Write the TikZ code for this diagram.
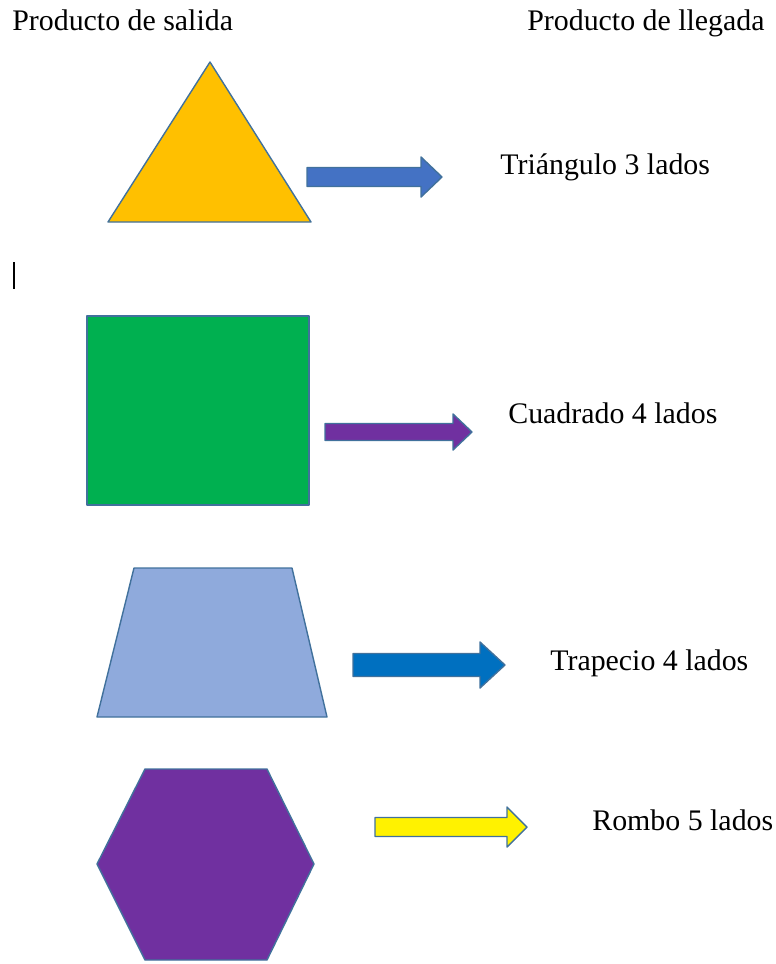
\documentclass[tikz,border=0pt]{standalone}
\usepackage{fontspec}
\setmainfont{Liberation Serif}
\usepackage{xcolor}

\definecolor{amarillo}{HTML}{FFC000}
\definecolor{verde}{HTML}{00B050}
\definecolor{celeste}{HTML}{8FAADC}
\definecolor{morado}{HTML}{7030A0}
\definecolor{azul}{HTML}{4472C4}
\definecolor{azulfuerte}{HTML}{0070C0}
\definecolor{borde}{HTML}{41719C}

\tikzset{
  figura/.style={draw=borde, line width=0.8pt, line join=round},
  texto/.style={anchor=base west, inner sep=0pt, font=\fontsize{17}{20}\selectfont},
}

% block arrow: #1 left x, #2 mid y, #3 tip x, #4 half body, #5 half head, #6 head start x, #7 fill
\newcommand{\flecha}[7]{%
  \draw[figura, fill=#7] (#1,#2-#4) -- (#6,#2-#4) -- (#6,#2-#5) -- (#3,#2)
    -- (#6,#2+#5) -- (#6,#2+#4) -- (#1,#2+#4) -- cycle;}

\begin{document}
\begin{tikzpicture}[x=0.02cm, y=-0.02cm]
                \useasboundingbox (0,0) rectangle (775,964);
                % headers
                \node (salida) [texto] at (12,30) {Producto de salida};
                \node (llegada) [texto] at (527,30) {Producto de llegada};
                % shapes
                \draw[figura, fill=amarillo] (210,62) -- (311,222) -- (108,222) -- cycle;
                \draw[figura, fill=verde] (87,316) rectangle (309,505);
                \draw[figura, fill=celeste] (134,568) -- (292,568) -- (327,717) -- (97,717) -- cycle;
                \draw[figura, fill=morado] (145,769) -- (267,769) -- (314,864) -- (267,960)
                  -- (145,960) -- (97,864) -- cycle;
                % arrows
                \flecha{307}{177}{442}{9.5}{20}{421}{azul}
                \flecha{325}{432}{472}{8.5}{18}{453}{morado}
                \flecha{353}{665}{505}{11.5}{23}{480}{azulfuerte}
                \flecha{375}{827}{527}{9.5}{20}{507}{yellow}
                % labels
                \node (tri) [texto] at (500,174) {Triángulo 3 lados};
                \node (cua) [texto] at (508,423) {Cuadrado 4 lados};
                \node (tra) [texto] at (550,670) {Trapecio 4 lados};
                \node (rom) [texto] at (592,830) {Rombo 5 lados};
                % cursor
                \draw[line width=1.2pt] (14,262) -- (14,289);
            \end{tikzpicture}
\end{document}
